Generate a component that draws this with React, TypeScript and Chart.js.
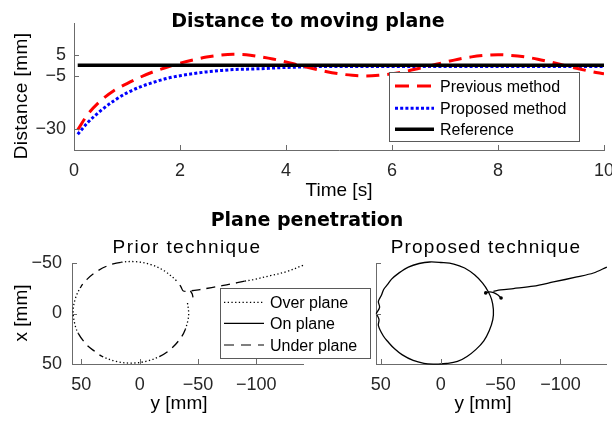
import React, { useEffect, useRef } from "react";
import { Chart, registerables } from "chart.js";

Chart.register(...registerables);

// ---------------- Top panel: distance to moving plane ----------------
const timeS = [0.07, 0.25, 0.5, 0.75, 1, 1.25, 1.5, 1.75, 2, 2.25, 2.5, 2.75, 3, 3.25, 3.5, 3.75, 4, 4.25, 4.5, 4.75, 5, 5.25, 5.5, 5.75, 6, 6.25, 6.5, 6.75, 7, 7.25, 7.5, 7.75, 8, 8.25, 8.5, 8.75, 9, 9.25, 9.5, 9.75, 10];
const previousMethodMm = [-30.5, -23.5, -16.8, -12.0, -8.6, -5.6, -3.0, -0.9, 1.0, 2.6, 3.9, 4.8, 5.2, 5.0, 4.1, 3.0, 1.6, 0.0, -1.5, -2.9, -4.0, -4.7, -5.0, -4.7, -4.0, -2.9, -1.5, 0.0, 1.5, 2.9, 4.0, 4.7, 5.0, 4.7, 4.0, 2.9, 1.5, 0.0, -1.5, -2.9, -4.0];
const proposedMethodMm = [-32.6, -27.3, -21.5, -16.8, -13.0, -10.2, -8.0, -6.2, -4.9, -3.9, -3.1, -2.5, -2.0, -1.8, -1.6, -1.3, -1.0, -0.8, -0.6, -0.5, -0.5, -0.5, -0.5, -0.5, -0.5, -0.5, -0.5, -0.5, -0.5, -0.5, -0.5, -0.5, -0.5, -0.5, -0.5, -0.5, -0.5, -0.5, -0.5, -0.5, -0.5];
const referenceTimeS = [0.07, 10];
const referenceMm = [0, 0];
const timeTicks = [0, 2, 4, 6, 8, 10];
const distanceTicks = [-30, -5, 5];

// ---------------- Bottom panels: plane penetration ----------------
// horizontal axis = y [mm] (reversed), vertical axis = x [mm] (reversed)
const priorYmm = [-140, -126, -112, -97.4, -90, -77.4, -68, -61.7, -51.7, -43.5, -37.4, -35.4, -31.5, -20.9, -9.4, 3.2, 16.1, 28.4, 39.3, 45.4, 50.4, 55.3, 57.0, 55.3, 52.4, 45.4, 38.5, 32.3, 20.3, 7.5, -5.3, -17.3, -27.5, -35.4, -39.0, -41.5, -42.0, -40.8];
const priorXmm = [-47.7, -41.5, -37.4, -33.6, -32, -29, -27, -25.7, -23.7, -22.4, -22.3, -26.4, -32.5, -42.4, -48.5, -51.3, -50.7, -46.8, -39.7, -33.5, -26.4, -14.2, -1.2, 11.8, 20.1, 31.1, 37.5, 42.4, 47.4, 49.1, 47.4, 42.4, 34.4, 23.9, 16.0, 6, -1.2, -12];
// state of the segment that starts at each point: o = over plane, n = on plane, u = under plane
const priorState = ["o", "o", "o", "o", "u", "u", "u", "u", "u", "u", "u", "u", "o", "o", "o", "o", "u", "u", "u", "u", "o", "o", "o", "o", "u", "u", "u", "o", "o", "o", "o", "u", "u", "u", "o", "o", "o", "o"];
const priorHookYmm = [-43.5, -45, -45.7];
const priorHookXmm = [-22.4, -19.5, -16];

const proposedLoopYmm = [53.8, 51.5, 52.0, 48.0, 44.0, 38.5, 32.0, 23.0, 14.0, 4.6, -5.0, -14.0, -22.0, -29.5, -36.0, -40.5, -43.5, -44.0, -42.5, -39.5, -35.0, -28.5, -20.0, -11.0, 0.0, 9.0, 18.0, 27.0, 35.0, 41.0, 44.5, 47.5, 49.5, 52.0, 51.0, 53.8];
const proposedLoopXmm = [0, 6, 12, 22, 28, 35, 41, 46.5, 49.3, 50.2, 49.5, 47.5, 42.5, 35.5, 27, 17, 6, -4, -14, -22, -30, -38, -45, -49, -50.5, -51, -49.5, -46, -40, -34, -28.5, -24, -18, -12, -6, 0];
const proposedTailYmm = [-138.7, -127.5, -113.7, -94.1, -77.4, -60.7, -50.0, -44.0];
const proposedTailXmm = [-46.0, -40.1, -36.2, -31.2, -27.0, -24.7, -23.3, -22.0];
const proposedHookYmm = [-37.6, -41.0, -44.2, -47.5, -50.4];
const proposedHookXmm = [-20.4, -21.5, -20.6, -18.5, -15.4];
const planeYTicks = [50, 0, -50, -100];
const planeXTicks = [-50, 0, 50];

// ---------------- styling ----------------
const FONT = "'Liberation Sans', Arial, Helvetica, sans-serif";
const BOLD = "'DejaVu Sans', Verdana, sans-serif";
const AXIS = "#6b6b6b";
const TICK = "#262626";
const CW = 660;
const CH = 424;

type Txt = { text: string; x: number; y: number; size: number; bold?: boolean; rotate?: boolean; spacing?: number };
type LegendItem = { label: string; color: string; width: number; dash: number[] };
type LegendSpec = {
  x: number; y: number; w: number; h: number;
  lineX0: number; lineX1: number; textX: number;
  rows: number[]; size: number; items: LegendItem[];
};

function decor(texts: Txt[], legend?: LegendSpec) {
  return {
    id: "decor",
    afterDatasetsDraw(chart: any) {
      const { ctx, chartArea } = chart;
      const xs = chart.scales.x;
      const ys = chart.scales.y;
      ctx.save();
      ctx.strokeStyle = AXIS;
      ctx.lineWidth = 1;
      ctx.setLineDash([]);
      ctx.beginPath();
      xs.ticks.forEach((t: any) => {
        const px = Math.round(xs.getPixelForValue(t.value)) + 0.5;
        ctx.moveTo(px, chartArea.bottom);
        ctx.lineTo(px, chartArea.bottom - 5);
      });
      ys.ticks.forEach((t: any) => {
        const py = Math.round(ys.getPixelForValue(t.value)) + 0.5;
        ctx.moveTo(chartArea.left, py);
        ctx.lineTo(chartArea.left + 5, py);
      });
      ctx.stroke();
      ctx.restore();
    },
    afterDraw(chart: any) {
      const ctx = chart.ctx as CanvasRenderingContext2D;
      ctx.save();
      if (legend) {
        ctx.fillStyle = "#ffffff";
        ctx.fillRect(legend.x, legend.y, legend.w, legend.h);
        ctx.strokeStyle = "#5a5a5a";
        ctx.lineWidth = 1;
        ctx.setLineDash([]);
        ctx.strokeRect(legend.x + 0.5, legend.y + 0.5, legend.w, legend.h);
        legend.items.forEach((it, i) => {
          const cy = legend.rows[i];
          ctx.beginPath();
          ctx.setLineDash(it.dash);
          ctx.lineWidth = it.width;
          ctx.strokeStyle = it.color;
          ctx.moveTo(legend.lineX0, cy);
          ctx.lineTo(legend.lineX1, cy);
          ctx.stroke();
          ctx.setLineDash([]);
          ctx.font = `${legend.size}px ${FONT}`;
          ctx.fillStyle = "#000000";
          ctx.textAlign = "left";
          ctx.textBaseline = "alphabetic";
          ctx.fillText(it.label, legend.textX, cy + legend.size * 0.358);
        });
      }
      texts.forEach((t) => {
        ctx.save();
        ctx.font = `${t.bold ? "bold " : ""}${t.size}px ${t.bold ? BOLD : FONT}`;
        (ctx as any).letterSpacing = `${t.spacing || 0}px`;
        ctx.fillStyle = "#000000";
        ctx.textAlign = "center";
        ctx.textBaseline = "alphabetic";
        ctx.translate(t.x, t.y);
        if (t.rotate) ctx.rotate(-Math.PI / 2);
        ctx.fillText(t.text, 0, 0);
        ctx.restore();
      });
      ctx.restore();
    },
  };
}

function axis(min: number, max: number, tickValues: number[], o: { reverse?: boolean; width?: number; height?: number; padding: number; labels?: boolean }) {
  return {
    type: "linear" as const,
    min,
    max,
    reverse: !!o.reverse,
    afterBuildTicks: (s: any) => {
      s.ticks = tickValues.map((v) => ({ value: v }));
    },
    afterFit: (s: any) => {
      if (o.width !== undefined) s.width = o.width;
      if (o.height !== undefined) s.height = o.height;
    },
    grid: { display: false, drawTicks: false },
    border: { display: true, color: AXIS, width: 1 },
    ticks: {
      display: o.labels !== false,
      font: { family: FONT, size: 18 },
      color: TICK,
      padding: o.padding,
      maxRotation: 0,
      autoSkip: false,
      callback: (v: number) => String(v).replace("-", "\u2212"),
    },
  };
}

const pts = (xs: number[], ys: number[]) => xs.map((x, i) => ({ x, y: ys[i] }));
const dashOf = (s: string) => (s === "o" ? [1.3, 2.4] : s === "u" ? [9, 6] : []);

function topConfig(): any {
  return {
    type: "line",
    data: {
      datasets: [
        { label: "Reference", data: pts(referenceTimeS, referenceMm), borderColor: "#000000", borderWidth: 3.5, pointRadius: 0, order: 0 },
        { label: "Previous method", data: pts(timeS, previousMethodMm), borderColor: "#ff0000", borderWidth: 3, borderDash: [13, 8], pointRadius: 0, cubicInterpolationMode: "monotone", order: 1 },
        { label: "Proposed method", data: pts(timeS, proposedMethodMm), borderColor: "#0000ff", borderWidth: 3, borderDash: [3, 2.2], pointRadius: 0, cubicInterpolationMode: "monotone", order: 2 },
      ],
    },
    options: {
      responsive: false,
      animation: false,
      devicePixelRatio: 1,
      layout: { padding: { left: 0, top: 23, right: CW - 604, bottom: CH - 150 - 30 } },
      scales: {
        x: axis(0, 10, timeTicks, { height: 30, padding: 10 }),
        y: axis(-40, 20, distanceTicks, { width: 74, padding: 8 }),
      },
      plugins: { legend: { display: false }, tooltip: { enabled: false }, title: { display: false } },
    },
    plugins: [
      decor(
        [
          { text: "Distance to moving plane", x: 308, y: 26.5, size: 19, bold: true },
          { text: "Distance [mm]", x: 27, y: 96, size: 19, rotate: true, spacing: 0.4 },
          { text: "Time [s]", x: 339, y: 196, size: 19 },
        ],
        {
          x: 389, y: 72, w: 190, h: 69, lineX0: 395, lineX1: 434, textX: 440, rows: [86, 108.3, 129.3], size: 16,
          items: [
            { label: "Previous method", color: "#ff0000", width: 3, dash: [14, 8] },
            { label: "Proposed method", color: "#0000ff", width: 3, dash: [3, 2.2] },
            { label: "Reference", color: "#000000", width: 3.5, dash: [] },
          ],
        }
      ),
    ],
  };
}

function leftConfig(): any {
  return {
    type: "line",
    data: {
      datasets: [
        {
          label: "Prior technique",
          data: pts(priorYmm, priorXmm),
          borderColor: "#000000",
          borderWidth: 1.3,
          pointRadius: 0,
          tension: 0.35,
          clip: false,
          segment: { borderDash: (c: any) => dashOf(priorState[c.p0DataIndex]) },
        },
        { label: "hook", data: pts(priorHookYmm, priorHookXmm), borderColor: "#000000", borderWidth: 1.3, pointRadius: 0, tension: 0.2, clip: false },
      ],
    },
    options: {
      responsive: false,
      animation: false,
      devicePixelRatio: 1,
      layout: { padding: { left: 0, top: 263, right: CW - 303, bottom: CH - 364 - 30 } },
      scales: {
        x: axis(-140, 58, planeYTicks, { reverse: true, height: 30, padding: 10 }),
        y: axis(-50, 50, planeXTicks, { reverse: true, width: 72, padding: 10 }),
      },
      plugins: { legend: { display: false }, tooltip: { enabled: false }, title: { display: false } },
    },
    plugins: [
      decor(
        [
          { text: "Plane penetration", x: 307, y: 226, size: 19, bold: true },
          { text: "Prior technique", x: 187, y: 253, size: 19, spacing: 1.4 },
          { text: "x [mm]", x: 27, y: 313, size: 19, rotate: true },
          { text: "y [mm]", x: 179, y: 409, size: 19 },
        ],
        {
          x: 220, y: 288, w: 150, h: 70, lineX0: 224, lineX1: 264, textX: 270, rows: [302.3, 323.3, 345], size: 16,
          items: [
            { label: "Over plane", color: "#000000", width: 1.3, dash: [1.3, 2.4] },
            { label: "On plane", color: "#000000", width: 1.2, dash: [] },
            { label: "Under plane", color: "#000000", width: 1.2, dash: [10, 7] },
          ],
        }
      ),
    ],
  };
}

function rightConfig(): any {
  return {
    type: "line",
    data: {
      datasets: [
        { label: "loop", data: pts(proposedLoopYmm, proposedLoopXmm), borderColor: "#000000", borderWidth: 1.3, pointRadius: 0, tension: 0.35, clip: false },
        { label: "tail", data: pts(proposedTailYmm, proposedTailXmm), borderColor: "#000000", borderWidth: 1.3, pointRadius: 0, tension: 0.3, clip: false },
        {
          label: "hook",
          data: pts(proposedHookYmm, proposedHookXmm),
          borderColor: "#000000",
          backgroundColor: "#000000",
          borderWidth: 1.3,
          pointRadius: [1.8, 0, 0, 0, 1.8],
          pointBorderWidth: 0,
          tension: 0.3,
          clip: false,
        },
      ],
    },
    options: {
      responsive: false,
      animation: false,
      devicePixelRatio: 1,
      layout: { padding: { left: 346, top: 263, right: CW - 606, bottom: CH - 364 - 30 } },
      scales: {
        x: axis(-138, 54, planeYTicks, { reverse: true, height: 30, padding: 10 }),
        y: axis(-50, 50, planeXTicks, { reverse: true, width: 30, padding: 10, labels: false }),
      },
      plugins: { legend: { display: false }, tooltip: { enabled: false }, title: { display: false } },
    },
    plugins: [
      decor([
        { text: "Proposed technique", x: 486, y: 253, size: 19, spacing: 1.2 },
        { text: "y [mm]", x: 483, y: 409, size: 19 },
      ]),
    ],
  };
}

export default function App() {
  const topRef = useRef<HTMLCanvasElement>(null);
  const leftRef = useRef<HTMLCanvasElement>(null);
  const rightRef = useRef<HTMLCanvasElement>(null);

  useEffect(() => {
    const charts = [
      new Chart(topRef.current as HTMLCanvasElement, topConfig()),
      new Chart(leftRef.current as HTMLCanvasElement, leftConfig()),
      new Chart(rightRef.current as HTMLCanvasElement, rightConfig()),
    ];
    return () => charts.forEach((c) => c.destroy());
  }, []);

  const cs: React.CSSProperties = { position: "absolute", left: 0, top: 0, width: CW, height: CH };
  return (
    <div style={{ position: "fixed", left: 0, top: 0, width: 612, height: 424, overflow: "hidden", background: "#ffffff" }}>
      <canvas ref={topRef} width={CW} height={CH} style={cs} />
      <canvas ref={leftRef} width={CW} height={CH} style={cs} />
      <canvas ref={rightRef} width={CW} height={CH} style={cs} />
    </div>
  );
}
